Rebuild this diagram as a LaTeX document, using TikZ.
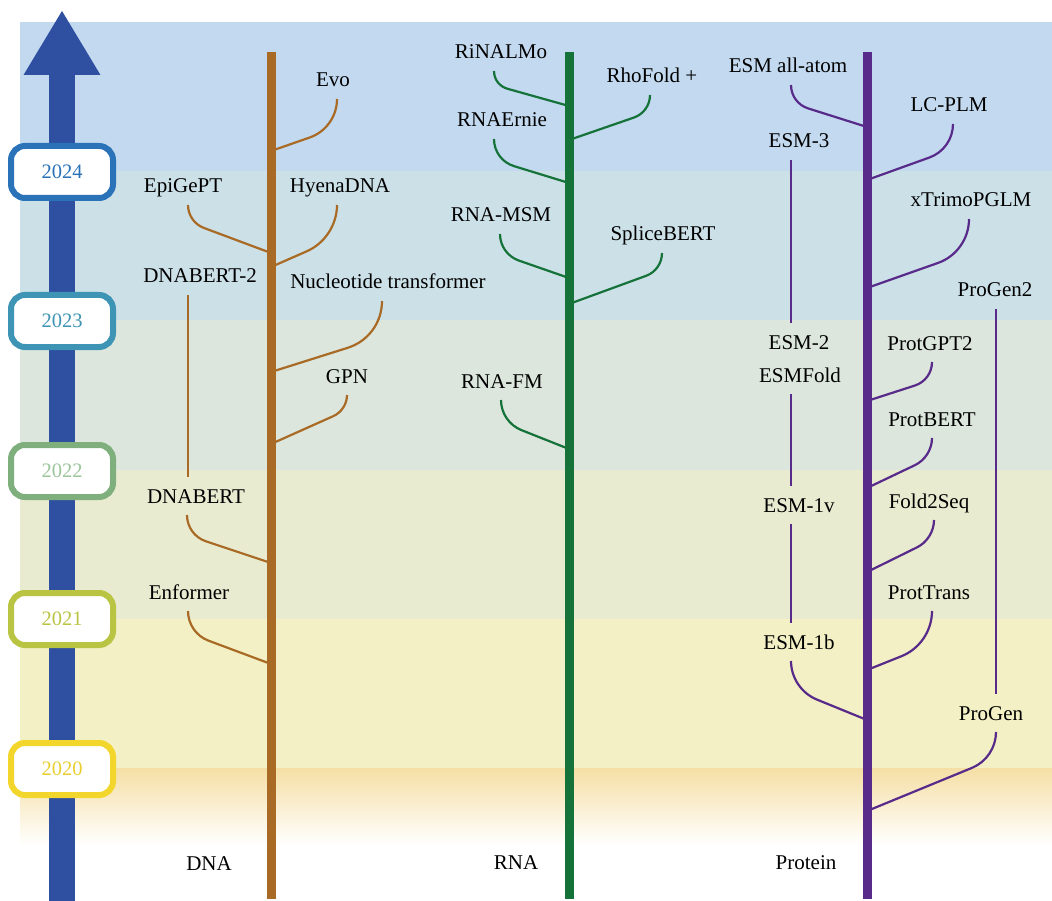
\documentclass[tikz,border=0pt]{standalone}
\usepackage{fontspec}
\setmainfont{Liberation Serif}
\usetikzlibrary{arrows.meta,calc}
\definecolor{DNABrown}  {HTML}{A86A25}
\definecolor{RNAGreen}  {HTML}{157238}
\definecolor{ProtPurple}{HTML}{582A8A}
\definecolor{AxisBlue}  {HTML}{2F4FA0}
\definecolor{BandA}{HTML}{C2D9EF}
\definecolor{BandB}{HTML}{CCE0E8}
\definecolor{BandC}{HTML}{DCE6DC}
\definecolor{BandD}{HTML}{E8EBD0}
\definecolor{BandE}{HTML}{F2F0C4}
\definecolor{BandF}{HTML}{F5DFA5}
\definecolor{YrA}{HTML}{2B73B9}
\definecolor{YrB}{HTML}{3E94B4}
\definecolor{YrC}{HTML}{7EAF7C}
\definecolor{YrCt}{HTML}{9DC59B}
\definecolor{YrD}{HTML}{BAC443}
\definecolor{YrE}{HTML}{F2D62B}
\definecolor{YrEt}{HTML}{E9CF30}

\begin{document}
\begin{tikzpicture}[x=1pt,y=-1pt,
    lbl/.style={font=\fontsize{21}{25}\selectfont,inner sep=0pt,
                text height=14pt,text depth=0pt,outer ysep=12pt},
    yearbox/.style 2 args={draw=#1,text=#2,fill=white,line width=6pt,
                rounded corners=14pt,minimum width=102pt,minimum height=52pt,
                font=\fontsize{20.5}{24}\selectfont},
    stem/.style={line width=9pt,#1},
    dnabr/.style={line width=2.2pt,DNABrown},
    rnabr/.style={line width=2.2pt,RNAGreen},
    protbr/.style={line width=2.2pt,ProtPurple},
    timeaxis/.style={line width=26pt,AxisBlue,-{Triangle[length=65pt,width=72pt]}}
  ]
    \useasboundingbox (0,0) rectangle (1052,901);
    % year bands
    \foreach \ya/\yb/\c in {22/171/BandA,171/320/BandB,320/470/BandC,470/619/BandD,619/768/BandE}
      \fill[\c] (20,\ya) rectangle (1052,\yb);
    \shade[top color=BandF,middle color=BandF!40!white,bottom color=white] (20,768) rectangle (1052,845);

    % time axis
    \coordinate (tbot) at (62,901);
    \coordinate (ttop) at (62,10);
    \draw[timeaxis] (tbot) -- (ttop);
    \foreach \yr/\y/\c/\t in {2024/172/YrA/YrA,2023/321/YrB/YrB,2022/471/YrC/YrCt,2021/619/YrD/YrD,2020/769/YrE/YrEt}
      \node[yearbox={\c}{\t}] (y\yr) at (62,\y) {\yr};

    % DNA
    \node[lbl] (evo)      at (333,80)  {Evo};
    \node[lbl] (hyena)    at (340,186) {HyenaDNA};
    \node[lbl] (epigept)  at (183,186) {EpiGePT};
    \node[lbl] (dnabert2) at (200,276) {DNABERT-2};
    \node[lbl] (ntrans)   at (388,282) {Nucleotide transformer};
    \node[lbl] (gpn)      at (347,376) {GPN};
    \node[lbl] (dnabert)  at (196,496) {DNABERT};
    \node[lbl] (enformer) at (189,592) {Enformer};
    \node[lbl] (dna)      at (209,863) {DNA};
    \foreach \n/\dx/\v/\y in {evo/4/29/151,hyena/-3/33/267,epigept/5/17/253,ntrans/-6/36/372,
                             gpn/0/15/444,dnabert/-9/20/563,enformer/-1/22/664}{
      \coordinate (\n-end) at (271,\y);
      \path ([xshift=\dx pt]\n.south) coordinate (\n-a) ++(0,\v) coordinate (\n-p);
      \coordinate (\n-k) at ($(\n-p)!\v*1pt!(\n-end)$);
      \draw[dnabr] (\n-a) .. controls ($(\n-a)!0.6!(\n-p)$) and ($(\n-k)!0.6!(\n-p)$) .. (\n-k) -- (\n-end);
    }
    \coordinate (dnax) at (188,0);
    \draw[dnabr] (dnabert2.south -| dnax) -- (dnabert.north -| dnax);
    \coordinate (dnatop) at (271,52);
    \coordinate (dnabot) at (271,899);
    \draw[stem=DNABrown] (dnatop) -- (dnabot);

    % RNA
    \node[lbl] (rinalmo)  at (501,52)  {RiNALMo};
    \node[lbl] (rnaernie) at (502,120) {RNAErnie};
    \node[lbl] (rnamsm)   at (501,215) {RNA-MSM};
    \node[lbl] (rhofold)  at (652,76)  {RhoFold +};
    \node[lbl] (splice)   at (663,234) {SpliceBERT};
    \node[lbl] (rnafm)    at (502,381) {RNA-FM};
    \node[lbl] (rna)      at (516,862) {RNA};
    \foreach \n/\dx/\v/\y in {rinalmo/-7/14/106,rnaernie/-8/21/183,rnamsm/-1/20/278,
                             rhofold/-2/17/140,splice/-1/17/304,rnafm/-1/22/449}{
      \coordinate (\n-end) at (569,\y);
      \path ([xshift=\dx pt]\n.south) coordinate (\n-a) ++(0,\v) coordinate (\n-p);
      \coordinate (\n-k) at ($(\n-p)!\v*1pt!(\n-end)$);
      \draw[rnabr] (\n-a) .. controls ($(\n-a)!0.6!(\n-p)$) and ($(\n-k)!0.6!(\n-p)$) .. (\n-k) -- (\n-end);
    }
    \coordinate (rnatop) at (569,52);
    \coordinate (rnabot) at (569,899);
    \draw[stem=RNAGreen] (rnatop) -- (rnabot);

    % Protein
    \node[lbl] (esmaa)     at (788,66)  {ESM all-atom};
    \node[lbl] (lcplm)     at (949,105) {LC-PLM};
    \node[lbl] (esm3)      at (799,141) {ESM-3};
    \node[lbl] (xtrimo)    at (971,200) {xTrimoPGLM};
    \node[lbl] (progen2)   at (995,290) {ProGen2};
    \node[lbl] (esm2)      at (799,342) {ESM-2};
    \node[lbl] (esmfold)   at (800,375) {ESMFold};
    \node[lbl] (protgpt2)  at (930,343) {ProtGPT2};
    \node[lbl] (protbert)  at (932,419) {ProtBERT};
    \node[lbl] (esm1v)     at (799,505) {ESM-1v};
    \node[lbl] (fold2seq)  at (929,501) {Fold2Seq};
    \node[lbl] (prottrans) at (929,592) {ProtTrans};
    \node[lbl] (esm1b)     at (799,642) {ESM-1b};
    \node[lbl] (progen)    at (991,713) {ProGen};
    \node[lbl] (protein)   at (806,862) {Protein};
    \foreach \n/\dx/\v/\y in {esmaa/3/18/127,lcplm/4/25/180,xtrimo/-2/33/288,esm1b/-8/28/720,
                             protgpt2/2/18/401,protbert/0/19/488,fold2seq/5/19/572,
                             prottrans/3/33/670,progen/5/26/811}{
      \coordinate (\n-end) at (867,\y);
      \path ([xshift=\dx pt]\n.south) coordinate (\n-a) ++(0,\v) coordinate (\n-p);
      \coordinate (\n-k) at ($(\n-p)!\v*1pt!(\n-end)$);
      \draw[protbr] (\n-a) .. controls ($(\n-a)!0.6!(\n-p)$) and ($(\n-k)!0.6!(\n-p)$) .. (\n-k) -- (\n-end);
    }
    \coordinate (esmx) at (791,0);
    \foreach \a/\b in {esm3/esm2,esmfold/esm1v,esm1v/esm1b}
      \draw[protbr] (\a.south -| esmx) -- (\b.north -| esmx);
    \coordinate (progenx) at (996,0);
    \draw[protbr] (progen2.south -| progenx) -- (progen.north -| progenx);
    \coordinate (prottop) at (867,52);
    \coordinate (protbot) at (867,899);
    \draw[stem=ProtPurple] (prottop) -- (protbot);
  \end{tikzpicture}
\end{document}
